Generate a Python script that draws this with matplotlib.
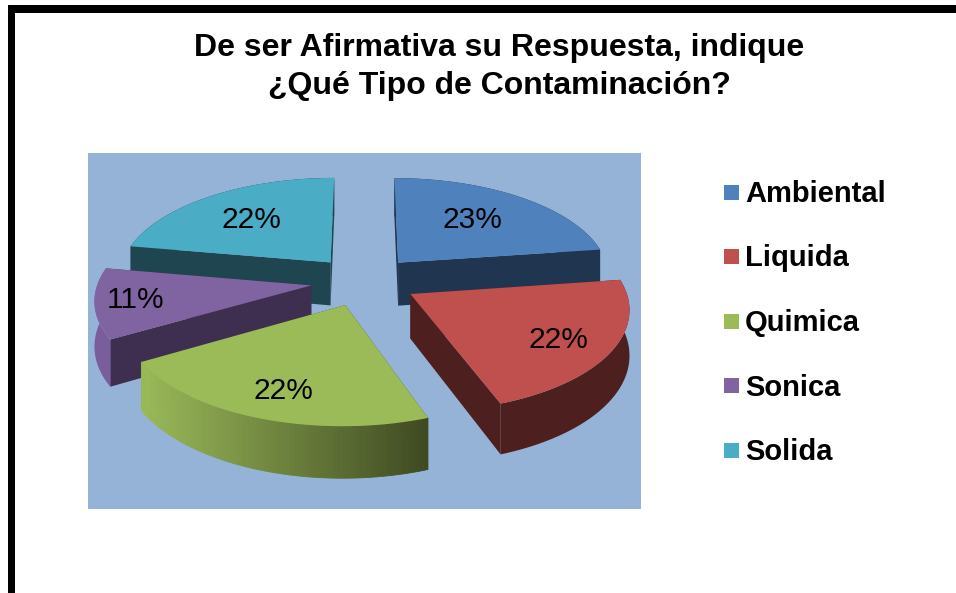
import matplotlib
matplotlib.use("Agg")
import matplotlib.pyplot as plt
from matplotlib.colors import to_rgb
from matplotlib.patches import Polygon, Rectangle
import numpy as np

# Data
title = "De ser Afirmativa su Respuesta, indique\n¿Qué Tipo de Contaminación?"
categories = ["Ambiental", "Liquida", "Quimica", "Sonica", "Solida"]
values = [23, 22, 22, 11, 22]
labels = ["23%", "22%", "22%", "11%", "22%"]
colors = ["#4F81BD", "#C0504D", "#9BBB59", "#8064A2", "#4BACC6"]
wall_colors = ["#1F3550", "#4D201F", "#3F4A22", "#3E2F50", "#1E4550"]
arc_colors = ["#1F3550", "#4D201F", None, "#7A5D9B", "#1E4550"]

plt.rcParams["font.family"] = ["Liberation Sans", "DejaVu Sans"]

fig = plt.figure(figsize=(9.56, 5.93), dpi=100)
ax = fig.add_axes([0, 0, 1, 1])
ax.set_xlim(0, 956)
ax.set_ylim(593, 0)
ax.axis("off")

# Frame and plot area
ax.add_patch(Rectangle((8, 5), 948, 7.5, color="black", lw=0))
ax.add_patch(Rectangle((8, 5), 7.5, 588, color="black", lw=0))
ax.add_patch(Rectangle((88, 153), 553, 356, color="#95B3D7", lw=0))

ax.text(499, 67, title, ha="center", va="center", fontsize=23,
        color="black", linespacing=1.34, fontweight="bold")

# Pie geometry: disc seen in perspective
cx, cy = 364, 281
rx, ry, persp = 213, 99.4, 0.125
explode = 0.25
depth = 44


def project(theta, mid):
    # theta and mid in degrees clockwise from the top, mid moves the slice out
    t, m = np.radians(theta), np.radians(mid)
    u = np.sin(t) + explode * np.sin(m)
    v = -np.cos(t) - explode * np.cos(m)
    w = 1 - persp * v
    return cx + rx * u / w, cy + ry * v / w, depth / w


def apex(mid):
    m = np.radians(mid)
    u, v = explode * np.sin(m), -explode * np.cos(m)
    w = 1 - persp * v
    return cx + rx * u / w, cy + ry * v / w, depth / w


def blend(a, b, f):
    a, b = np.array(to_rgb(a)), np.array(to_rgb(b))
    return tuple(a + (b - a) * f)


edges = np.concatenate([[0], np.cumsum(values)]) / sum(values) * 360
# small skew: the original is turned a bit more at the front than at the back
edges = edges - 1 + np.cos(np.radians(edges))
order = [4, 0, 3, 1, 2]
for i in order:
    a0, a1 = edges[i], edges[i + 1]
    mid = (a0 + a1) / 2
    ox, oy, od = apex(mid)
    th = np.linspace(a0, a1, 80)
    xs, ys, ds = project(th, mid)

    # radial walls
    for k in (0, -1):
        wall = [(ox, oy), (xs[k], ys[k]), (xs[k], ys[k] + ds[k]), (ox, oy + od)]
        ax.add_patch(Polygon(wall, color=wall_colors[i], lw=0))
    # outer wall, only Quimica has the gradient
    if arc_colors[i] is None:
        for k in range(len(th) - 1):
            c = blend(colors[i], wall_colors[i], (xs[k] - xs.min()) / (xs.max() - xs.min()))
            seg = [(xs[k], ys[k]), (xs[k + 1], ys[k + 1]),
                   (xs[k + 1], ys[k + 1] + ds[k + 1]), (xs[k], ys[k] + ds[k])]
            ax.add_patch(Polygon(seg, color=c, lw=0.6))
    else:
        outer = np.vstack([np.column_stack([xs, ys]),
                           np.column_stack([xs, ys + ds])[::-1]])
        ax.add_patch(Polygon(outer, color=arc_colors[i], lw=0))
    # top
    ax.add_patch(Polygon(np.vstack([[ox, oy], np.column_stack([xs, ys])]),
                         color=colors[i], lw=0))

# Data labels
label_x = [472, 558, 283, 136, 251]
label_y = [228, 348, 399, 308, 228]
for x, y, s in zip(label_x, label_y, labels):
    ax.text(x, y, s, ha="center", va="baseline", fontsize=21.5, color="black")

# Legend
legend_y = [192.5, 256.5, 321, 385.5, 450.5]
for y, name, c in zip(legend_y, categories, colors):
    ax.add_patch(Rectangle((724, y - 7.5), 15, 15, color=c, lw=0))
    ax.text(745, y + 10, name, ha="left", va="baseline", fontsize=21,
            color="black", fontweight="bold")

fig.savefig("out.png", dpi=100)
